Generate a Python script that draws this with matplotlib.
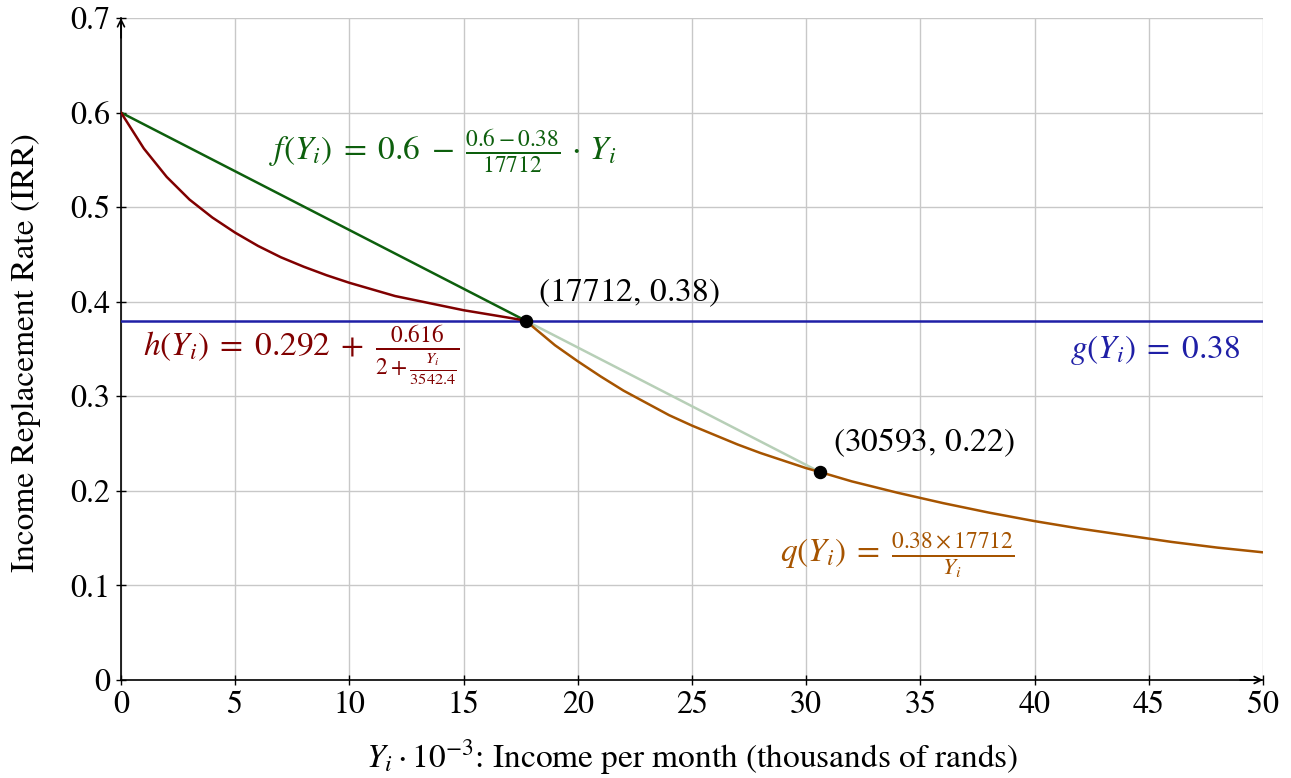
import matplotlib
import matplotlib.pyplot as plt

matplotlib.use("Agg")

plt.rcParams["font.family"] = ["STIXGeneral", "DejaVu Serif"]
plt.rcParams["mathtext.fontset"] = "stix"

# income in thousands of rands, IRR values
f_x = [0.0, 17.712]
f_y = [0.6, 0.38]
f_ext_x = [17.712, 30.593]
f_ext_y = [0.38, 0.22]
g_x = [0.0, 50.0]
g_y = [0.38, 0.38]
h_x = [0, 1, 2, 3, 4, 5, 6, 7, 8, 9, 10, 11, 12, 13, 14, 15, 16, 17, 17.712]
h_y = [0.600, 0.562, 0.532, 0.508, 0.489, 0.473, 0.459, 0.447, 0.437, 0.428,
       0.420, 0.413, 0.406, 0.401, 0.396, 0.391, 0.387, 0.383, 0.380]
q_x = [17.712, 19, 20, 21, 22, 23, 24, 25, 26, 27, 28, 29, 30, 30.593,
       32, 34, 36, 38, 40, 42, 44, 46, 48, 50]
q_y = [0.380, 0.354, 0.337, 0.321, 0.306, 0.293, 0.280, 0.269, 0.259, 0.249,
       0.240, 0.232, 0.224, 0.220, 0.210, 0.198, 0.187, 0.177, 0.168, 0.160,
       0.153, 0.146, 0.140, 0.135]
points_x = [17.712, 30.593]
points_y = [0.38, 0.22]
point_labels = [r"$(17712,\, 0.38)$", r"$(30593,\, 0.22)$"]
x_ticks = [0, 5, 10, 15, 20, 25, 30, 35, 40, 45, 50]
y_ticks = [0, 0.1, 0.2, 0.3, 0.4, 0.5, 0.6, 0.7]

GREEN = "#0d5f0d"
BLUE = "#1f1fa6"
RED = "#800000"
ORANGE = "#a65400"
LIGHT_GREEN = "#b7cfb7"

fig = plt.figure(figsize=(12.91, 7.78), dpi=100)
ax = fig.add_axes([121 / 1291, 98 / 778, 1142 / 1291, 662 / 778])

ax.plot(f_ext_x, f_ext_y, color=LIGHT_GREEN, lw=1.8, zorder=3)
ax.plot(g_x, g_y, color=BLUE, lw=1.8, zorder=4)
ax.plot(f_x, f_y, color=GREEN, lw=1.8, zorder=4)
ax.plot(h_x, h_y, color=RED, lw=1.8, zorder=4)
ax.plot(q_x, q_y, color=ORANGE, lw=1.8, zorder=4)
ax.scatter(points_x, points_y, s=75, color="black", zorder=6)

ax.set_xlim(0, 50)
ax.set_ylim(0, 0.7)
ax.set_xticks(x_ticks)
ax.set_yticks(y_ticks)
ax.set_xticklabels([str(t) for t in x_ticks])
ax.set_yticklabels(["0"] + [f"{t:.1f}" for t in y_ticks[1:]])
ax.tick_params(labelsize=23, direction="inout", length=7, width=1, pad=4)
ax.grid(True, color="#c8c8c8", lw=1)
ax.set_axisbelow(True)

for side in ["top", "right"]:
    ax.spines[side].set_visible(False)
for side in ["left", "bottom"]:
    ax.spines[side].set_linewidth(1.2)

# axis arrows
arrow = dict(arrowstyle="->,head_length=0.5,head_width=0.25", lw=1.2, color="black",
             shrinkA=0, shrinkB=0)
ax.annotate("", xy=(1, 0), xytext=(0.98, 0), xycoords="axes fraction",
            arrowprops=arrow, annotation_clip=False)
ax.annotate("", xy=(0, 1), xytext=(0, 0.97), xycoords="axes fraction",
            arrowprops=arrow, annotation_clip=False)

ax.set_xlabel(r"$Y_i \cdot 10^{-3}$: Income per month (thousands of rands)",
              fontsize=24)
ax.set_ylabel("Income Replacement Rate (IRR)", fontsize=24)
ax.xaxis.set_label_coords(0.5, -0.087)
ax.yaxis.set_label_coords(-0.07, 0.495)

ax.text(6.5, 0.558, r"$f(Y_i) \;=\; 0.6 \;-\; \frac{0.6 - 0.38}{17712} \,\cdot\, Y_i$",
        color=GREEN, fontsize=24, va="center", ha="left")
ax.text(0.95, 0.343, r"$h(Y_i) \;=\; 0.292 \;+\; \frac{0.616}{2 + \frac{Y_i}{3542.4}}$",
        color=RED, fontsize=24, va="center", ha="left")
ax.text(49.0, 0.349, r"$g(Y_i) \;=\; 0.38$", color=BLUE, fontsize=24,
        va="center", ha="right")
ax.text(28.85, 0.132, r"$q(Y_i) \;=\; \frac{0.38 \times 17712}{Y_i}$",
        color=ORANGE, fontsize=24, va="center", ha="left")

label_offsets = [(0.55, 0.029), (0.58, 0.031)]
for px, py, lab, (dx, dy) in zip(points_x, points_y, point_labels, label_offsets):
    ax.text(px + dx, py + dy, lab, fontsize=24, va="center", ha="left")

fig.savefig("out.png", dpi=100)
